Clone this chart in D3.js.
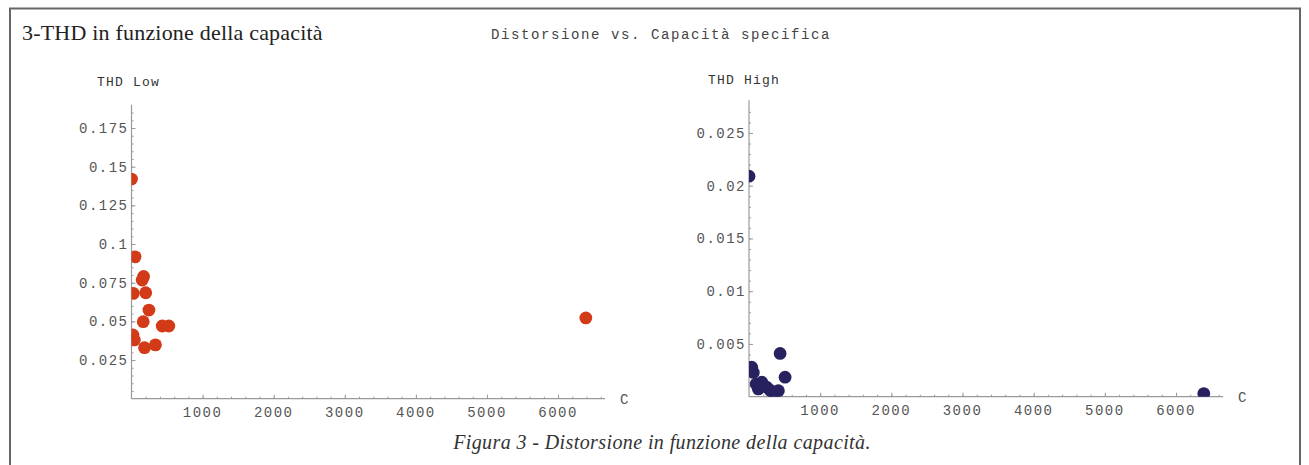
<!DOCTYPE html>
<html>
<head>
<meta charset="utf-8">
<script src="https://cdn.jsdelivr.net/npm/d3@7"></script>
<style>
  html, body { margin: 0; padding: 0; background: #fff; }
  svg { display: block; }
</style>
</head>
<body>
<svg id="chart" width="1309" height="465"></svg>
<script>
// Capacità specifica (C) and THD measured at low / high level
const capLow  = [0, 50, 170, 150, 25, 200, 245, 165, 432, 525, 20, 40, 183, 337, 6390];
const thdLow  = [0.142, 0.0917, 0.079, 0.0767, 0.0681, 0.0685, 0.0573, 0.0498, 0.047, 0.047, 0.0412, 0.038, 0.033, 0.0348, 0.0522];
const capHigh = [0, 437, 38, 61, 180, 507, 131, 249, 342, 413, 6390, 100, 300];
const thdHigh = [0.0209, 0.0041, 0.0028, 0.0023, 0.00137, 0.00185, 0.00074, 0.0009, 0.0004, 0.00057, 0.0003, 0.0012, 0.0006];

const xTicks     = [1000, 2000, 3000, 4000, 5000, 6000];
const yTicksLow  = [0.025, 0.05, 0.075, 0.1, 0.125, 0.15, 0.175];
const yTicksHigh = [0.005, 0.01, 0.015, 0.02, 0.025];
const yLabelsLow  = ["0.025", "0.05", "0.075", "0.1", "0.125", "0.15", "0.175"];
const yLabelsHigh = ["0.005", "0.01", "0.015", "0.02", "0.025"];

const svg = d3.select("#chart");
const mono = "'Liberation Mono', 'DejaVu Sans Mono', monospace";
const serif = "'Liberation Serif', 'DejaVu Serif', serif";

// Frame
svg.append("path")
  .attr("d", "M10,465 L10,8.5 L1300,8.5 L1300,465")
  .attr("fill", "none").attr("stroke", "#666").attr("stroke-width", 2);

svg.append("text").attr("x", 22).attr("y", 40)
  .attr("font-family", serif).attr("font-size", 22).attr("letter-spacing", 0.2).attr("fill", "#222")
  .text("3-THD in funzione della capacità");

svg.append("text").attr("x", 661).attr("y", 39).attr("text-anchor", "middle")
  .attr("font-family", mono).attr("font-size", 14).attr("letter-spacing", 1.6).attr("fill", "#444")
  .text("Distorsione vs. Capacità specifica");

svg.append("text").attr("x", 662).attr("y", 449).attr("text-anchor", "middle")
  .attr("font-family", serif).attr("font-style", "italic").attr("font-size", 20).attr("letter-spacing", 0.4).attr("fill", "#333")
  .text("Figura 3 - Distorsione in funzione della capacità.");

function panel(opts) {
  const x = d3.scaleLinear().domain([0, 6660]).range([opts.x0, opts.x1]);
  const y = d3.scaleLinear().domain([0, opts.yMax]).range([opts.y0, opts.y1]);
  const g = svg.append("g");
  const axisColor = "#9a9a9a";
  const labelColor = "#555";

  // x axis, ticks pointing inward
  const xAxis = g.append("g").attr("transform", `translate(0,${opts.y0})`)
    .call(d3.axisTop(x).tickValues(d3.range(200, 6601, 200)).tickSize(2).tickFormat(""));
  xAxis.select(".domain").remove();
  xAxis.selectAll("line").attr("stroke", axisColor);
  const xMaj = g.append("g").attr("transform", `translate(0,${opts.y0})`)
    .call(d3.axisTop(x).tickValues(xTicks).tickSize(4).tickFormat(""));
  xMaj.select(".domain").remove();
  xMaj.selectAll("line").attr("stroke", axisColor);
  g.append("line").attr("x1", x(0)).attr("x2", x(6660)).attr("y1", opts.y0).attr("y2", opts.y0)
    .attr("stroke", axisColor).attr("stroke-width", 1.2);
  g.selectAll(".xl").data(xTicks).join("text")
    .attr("x", d => x(d)).attr("y", opts.y0 + 18).attr("text-anchor", "middle")
    .attr("font-family", mono).attr("font-size", 14).attr("letter-spacing", 1.5)
    .attr("fill", labelColor).text(d => d);
  g.append("text").attr("x", opts.x1 + 15).attr("y", opts.y0 + 5)
    .attr("font-family", mono).attr("font-size", 14).attr("fill", labelColor).text("C");

  // y axis
  const yMin = g.append("g").attr("transform", `translate(${opts.x0},0)`)
    .call(d3.axisRight(y).tickValues(opts.minor).tickSize(2).tickFormat(""));
  yMin.select(".domain").remove();
  yMin.selectAll("line").attr("stroke", axisColor);
  const yMaj = g.append("g").attr("transform", `translate(${opts.x0},0)`)
    .call(d3.axisRight(y).tickValues(opts.yTicks).tickSize(4).tickFormat(""));
  yMaj.select(".domain").remove();
  yMaj.selectAll("line").attr("stroke", axisColor);
  g.append("line").attr("x1", opts.x0).attr("x2", opts.x0).attr("y1", opts.y0).attr("y2", opts.y1)
    .attr("stroke", axisColor).attr("stroke-width", 1.2);
  g.selectAll(".yl").data(opts.yTicks).join("text")
    .attr("x", opts.x0 - 3).attr("y", d => y(d) + 5).attr("text-anchor", "end")
    .attr("font-family", mono).attr("font-size", 14).attr("letter-spacing", 1.5)
    .attr("fill", labelColor).text((d, i) => opts.yLabels[i]);
  g.append("text").attr("x", opts.titleX).attr("y", opts.titleY)
    .attr("font-family", mono).attr("font-size", 13).attr("letter-spacing", 1.2)
    .attr("fill", "#333").text(opts.title);

  // points, clipped to the plot range
  const clipId = "clip-" + opts.id;
  svg.append("clipPath").attr("id", clipId).append("rect")
    .attr("x", opts.x0).attr("y", opts.y1 - 10)
    .attr("width", opts.x1 - opts.x0 + 20).attr("height", opts.y0 - opts.y1 + 10);
  g.append("g").attr("clip-path", `url(#${clipId})`)
    .selectAll("circle").data(opts.cap).join("circle")
    .attr("cx", d => x(d)).attr("cy", (d, i) => y(opts.thd[i]))
    .attr("r", 6.4).attr("fill", opts.color);
}

panel({
  id: "low", x0: 131.5, x1: 605, y0: 398.7, yMax: 0.19, y1: 398.7 - 0.19 * 1546.7,
  yTicks: yTicksLow, yLabels: yLabelsLow, minor: d3.range(0.005, 0.19, 0.005),
  title: "THD Low", titleX: 97, titleY: 86, cap: capLow, thd: thdLow, color: "#d23a18"
});

panel({
  id: "high", x0: 749, x1: 1223, y0: 396.7, yMax: 0.0281, y1: 396.7 - 0.0281 * 10550,
  yTicks: yTicksHigh, yLabels: yLabelsHigh, minor: d3.range(0.001, 0.028, 0.001),
  title: "THD High", titleX: 708, titleY: 84, cap: capHigh, thd: thdHigh, color: "#27225f"
});
</script>
</body>
</html>
